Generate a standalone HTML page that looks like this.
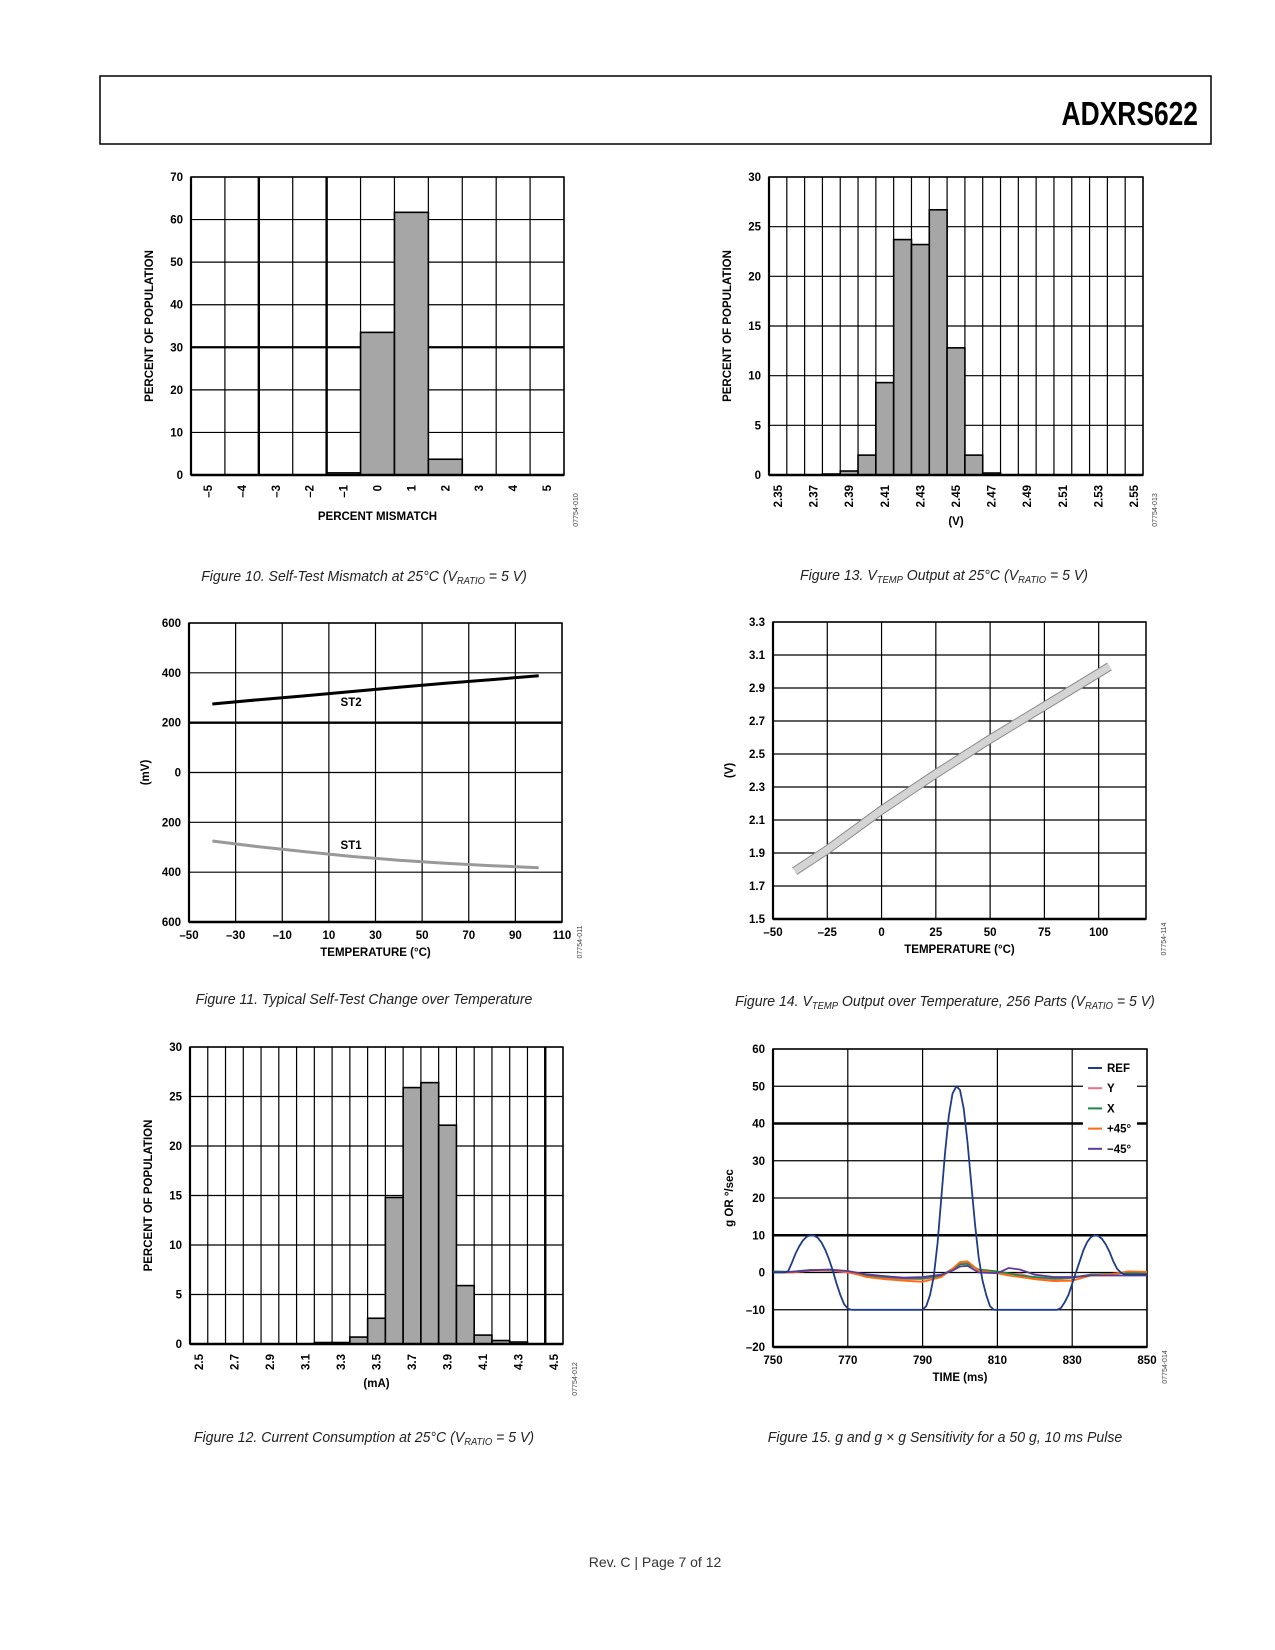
<!DOCTYPE html>
<html><head><meta charset="utf-8"><style>
html,body{margin:0;padding:0;background:#fff;}
svg{display:block;font-family:"Liberation Sans",Arial,sans-serif;}
.lab{font-size:11.5px;font-weight:bold;fill:#000;}
.cap{font-family:"Liberation Sans Narrow","Liberation Sans",sans-serif;font-style:italic;font-size:15px;fill:#222;}
.code{font-size:7px;fill:#444;}
</style></head><body>
<svg id="page" width="1275" height="1650" viewBox="0 0 1275 1650">
<rect x="100" y="76" width="1111" height="68" fill="none" stroke="#000" stroke-width="1.5"/>
<text x="0" y="0" text-anchor="end" font-size="33" font-weight="bold" transform="translate(1198,125) scale(0.8,1)">ADXRS622</text>
<text x="655" y="1567" text-anchor="middle" font-size="14" fill="#333">Rev. C | Page 7 of 12</text>
<g transform="translate(364,581) scale(0.94,1)"><text class="cap" x="0" y="0" text-anchor="middle">Figure 10. Self-Test Mismatch at 25°C (V<tspan font-size="10" dy="3">RATIO</tspan><tspan dy="-3"> = 5 V)</tspan></text></g>
<g transform="translate(944,580) scale(0.94,1)"><text class="cap" x="0" y="0" text-anchor="middle">Figure 13. V<tspan font-size="10" dy="3">TEMP</tspan><tspan dy="-3"> Output at 25°C (V</tspan><tspan font-size="10" dy="3">RATIO</tspan><tspan dy="-3"> = 5 V)</tspan></text></g>
<g transform="translate(364,1004) scale(0.94,1)"><text class="cap" x="0" y="0" text-anchor="middle">Figure 11. Typical Self-Test Change over Temperature</text></g>
<g transform="translate(945,1006) scale(0.94,1)"><text class="cap" x="0" y="0" text-anchor="middle">Figure 14. V<tspan font-size="10" dy="3">TEMP</tspan><tspan dy="-3"> Output over Temperature, 256 Parts (V</tspan><tspan font-size="10" dy="3">RATIO</tspan><tspan dy="-3"> = 5 V)</tspan></text></g>
<g transform="translate(364,1442) scale(0.94,1)"><text class="cap" x="0" y="0" text-anchor="middle">Figure 12. Current Consumption at 25°C (V<tspan font-size="10" dy="3">RATIO</tspan><tspan dy="-3"> = 5 V)</tspan></text></g>
<g transform="translate(945,1442) scale(0.94,1)"><text class="cap" x="0" y="0" text-anchor="middle">Figure 15. g and g × g Sensitivity for a 50 g, 10 ms Pulse</text></g>
<g id="g10"></g>
<g id="g13"></g>
<g id="g11"></g>
<g id="g14"></g>
<g id="g12"></g>
<g id="g15"></g>
</svg>
<script>
// Figure 10 data
var f10Cats=[-5,-4,-3,-2,-1,0,1,2,3,4,5];
var f10Vals=[0,0,0,0,0.5,33.5,61.7,3.7,0,0,0];
var f10Ticks=[0,10,20,30,40,50,60,70];
// Figure 13 data
var f13Cats=[2.35,2.36,2.37,2.38,2.39,2.40,2.41,2.42,2.43,2.44,2.45,2.46,2.47,2.48,2.49,2.50,2.51,2.52,2.53,2.54,2.55];
var f13Vals=[0,0,0,0.1,0.4,2,9.3,23.7,23.2,26.7,12.8,2,0.2,0,0,0,0,0,0,0,0];
var f13Ticks=[0,5,10,15,20,25,30];
// Figure 12 data
var f12Cats=[2.5,2.6,2.7,2.8,2.9,3.0,3.1,3.2,3.3,3.4,3.5,3.6,3.7,3.8,3.9,4.0,4.1,4.2,4.3,4.4,4.5];
var f12Vals=[0,0,0,0,0,0,0,0.15,0.15,0.7,2.6,14.8,25.9,26.4,22.1,5.9,0.9,0.35,0.2,0,0];
var f12Ticks=[0,5,10,15,20,25,30];
// Figure 11 data
var f11Temps=[-40,-20,0,20,40,60,80,100];
var f11ST2=[275,292,308,325,342,358,373,388];
var f11ST1=[-275,-298,-318,-337,-352,-364,-374,-382];
var f11YTicks=[-600,-400,-200,0,200,400,600];
var f11XTicks=[-50,-30,-10,10,30,50,70,90,110];
// Figure 14 data
var f14Temps=[-40,-25,0,25,50,75,105];
var f14Volts=[1.79,1.92,2.16,2.38,2.59,2.79,3.03];
var f14YTicks=[1.5,1.7,1.9,2.1,2.3,2.5,2.7,2.9,3.1,3.3];
var f14XTicks=[-50,-25,0,25,50,75,100];
// Figure 15 data
var f15RefT=[750,753,754,755,756,757,758,759,760,761,762,763,764,765,766,767,768,769,770,771,790,791,792,793,794,795,796,797,798,799,800,801,802,803,804,805,806,807,808,809,826,827,828,829,830,831,832,833,834,835,836,837,838,839,840,841,842,843,844,850];
var f15RefV=[0,0,0.3,2.5,5,7,8.6,9.6,10,9.9,9.3,8,6,3.5,0.5,-3,-6,-8.5,-9.7,-10,-10,-9,-6,-1,8,20,32,42,48,50,49,44,35,24,13,4,-2,-6,-9,-10,-10,-9.5,-8,-6,-3,0,3,6,8.2,9.5,10,9.8,9,7.5,5.5,3,1,0,-0.5,-0.5];
var f15T=[750,755,760,765,770,775,780,785,790,795,798,800,802,805,810,813,816,820,825,830,835,840,845,850];
var f15Y=[0,0,0.5,0.5,0,-1,-1.5,-1.8,-1.8,-1,1,2.6,2.8,0.5,0,-0.5,-0.3,-1.5,-2,-1.5,-0.5,-0.5,0,0];
var f15X=[0.3,0.2,0.7,0.6,0.3,-0.7,-1.2,-1.5,-1.6,-0.8,1,2.2,2.3,0.8,0.3,-0.2,-0.8,-1.2,-1.6,-1.4,-0.6,-0.4,0,0];
var f15P45=[0,0,0.5,0.7,0.2,-1.2,-1.8,-2.2,-2.5,-1.2,1,2.8,3,0.5,-0.2,-0.8,-1.2,-1.8,-2.3,-2.2,-0.8,-0.5,0.3,0.2];
var f15M45=[0.1,0.2,0.6,0.8,0.4,-0.5,-1,-1.4,-1.2,-0.6,0.5,1.6,1.8,0,-0.2,1.2,0.8,-0.6,-1.2,-1.2,-0.8,-0.8,-0.8,-0.8];
var f15YTicks=[-20,-10,0,10,20,30,40,50,60];
var f15XTicks=[750,770,790,810,830,850];
var f15Legend=["REF","Y","X","+45°","−45°"];

var NS="http://www.w3.org/2000/svg";
function mk(parent,tag,attrs){var e=document.createElementNS(NS,tag);for(var k in attrs)e.setAttribute(k,attrs[k]);parent.appendChild(e);return e;}
function fmt(v){return (v<0?"\u2013":"")+Math.abs(v);}
function lin(d0,d1,r0,r1){return function(v){return r0+(v-d0)/(d1-d0)*(r1-r0);};}

function histogram(gid,L,R,T,B,cats,vals,ticks,thickY,thickX,labelEvery,decimals,xTitle,yTitle,code,titleY){
  var g=document.getElementById(gid);
  var ymax=ticks[ticks.length-1];
  var y=lin(0,ymax,B,T);
  var n=cats.length,w=(R-L)/n;
  var i,e;
  for(i=0;i<ticks.length;i++){
    var yy=y(ticks[i]);
    e=mk(g,'line',{x1:L,x2:R,y1:yy,y2:yy,stroke:'#000','stroke-width':ticks[i]===thickY?2.2:1.2});
    
    
    e=mk(g,'text',{x:L-8,y:yy+4,'text-anchor':'end','class':'lab'});e.textContent=ticks[i];
    
    
  }
  for(i=0;i<=n;i++){
    var xx=L+i*w;
    e=mk(g,'line',{x1:xx,x2:xx,y1:T,y2:B,stroke:'#000','stroke-width':thickX.indexOf(i)>=0?2.4:1.2});
    
    
  }
  for(i=0;i<n;i++){
    if(vals[i]>0){
      e=mk(g,'rect',{x:L+i*w,y:y(vals[i]),width:w,height:B-y(vals[i]),fill:'#a6a6a6',stroke:'#000','stroke-width':1.6});
      
      
    }
    if(i%labelEvery===0){
      var cx=L+(i+0.5)*w;
      e=mk(g,'text',{x:0,y:0,'text-anchor':'end','class':'lab',transform:'translate('+(cx+4)+','+(B+10)+') rotate(-90)'});
      e.textContent=decimals?cats[i].toFixed(decimals):fmt(cats[i]);
      
      
    }
  }
  mk(g,'rect',{x:L,y:T,width:R-L,height:B-T,fill:'none',stroke:'#000','stroke-width':1.5});
  mk(g,'line',{x1:L,x2:L,y1:T,y2:B,stroke:'#000','stroke-width':2.2});
  mk(g,'line',{x1:L,x2:R,y1:B,y2:B,stroke:'#000','stroke-width':2.5});
  e=mk(g,'text',{x:(L+R)/2,y:titleY,'text-anchor':'middle','class':'lab'});e.textContent=xTitle;
  
  
  e=mk(g,'text',{x:0,y:0,'text-anchor':'middle','class':'lab',transform:'translate('+(L-38)+','+((T+B)/2)+') rotate(-90)'});e.textContent=yTitle;
  
  
  e=mk(g,'text',{x:0,y:0,'text-anchor':'middle','class':'code',transform:'translate('+(R+14)+','+(B+35)+') rotate(-90)'});e.textContent=code;
  
  
}
histogram('g10',191,564,177,475,f10Cats,f10Vals,f10Ticks,30,[2,4],1,0,'PERCENT MISMATCH','PERCENT OF POPULATION','07754-010',520);
histogram('g13',769,1143,177,475,f13Cats,f13Vals,f13Ticks,-1,[],2,2,'(V)','PERCENT OF POPULATION','07754-013',525);
histogram('g12',190,563,1047,1344,f12Cats,f12Vals,f12Ticks,-1,[20],2,1,'(mA)','PERCENT OF POPULATION','07754-012',1387);

function lineFrame(g,L,R,T,B,x,y,xt,yt,thickYs,xTitle,yTitle,code,ylabFmt,xStep){
  var e,i;
  for(i=0;i<yt.length;i++){
    var yy=y(yt[i]);
    e=mk(g,'line',{x1:L,x2:R,y1:yy,y2:yy,stroke:'#000','stroke-width':thickYs.indexOf(yt[i])>=0?2.4:1.2});
    
    
    e=mk(g,'text',{x:L-8,y:yy+4,'text-anchor':'end','class':'lab'});e.textContent=ylabFmt(yt[i]);
    
    
  }
  for(var v=xt[0];x(v)<=R+0.5;v+=xStep){
    e=mk(g,'line',{x1:x(v),x2:x(v),y1:T,y2:B,stroke:'#000','stroke-width':1.2});
    
    
  }
  for(i=0;i<xt.length;i++){
    e=mk(g,'text',{x:x(xt[i]),y:B+17,'text-anchor':'middle','class':'lab'});e.textContent=fmt(xt[i]);
    
    
  }
  mk(g,'rect',{x:L,y:T,width:R-L,height:B-T,fill:'none',stroke:'#000','stroke-width':1.5});
  mk(g,'line',{x1:L,x2:L,y1:T,y2:B,stroke:'#000','stroke-width':2.2});
  mk(g,'line',{x1:L,x2:R,y1:B,y2:B,stroke:'#000','stroke-width':2.5});
  e=mk(g,'text',{x:(L+R)/2,y:B+34,'text-anchor':'middle','class':'lab'});e.textContent=xTitle;
  
  
  e=mk(g,'text',{x:0,y:0,'text-anchor':'middle','class':'lab',transform:'translate('+(L-40)+','+((T+B)/2)+') rotate(-90)'});e.textContent=yTitle;
  
  
  e=mk(g,'text',{x:0,y:0,'text-anchor':'middle','class':'code',transform:'translate('+(R+20)+','+(B+20)+') rotate(-90)'});e.textContent=code;
  
  
}
function path(xs,ys,x,y){var d='';for(var i=0;i<xs.length;i++)d+=(i?'L':'M')+x(xs[i]).toFixed(1)+','+y(ys[i]).toFixed(1);return d;}

// Figure 11
(function(){
  var g=document.getElementById('g11'),L=189,R=562,T=623,B=922;
  var x=lin(-50,110,L,R),y=lin(-600,600,B,T);
  lineFrame(g,L,R,T,B,x,y,f11XTicks,f11YTicks,[200],'TEMPERATURE (°C)','(mV)','07754-011',function(v){return Math.abs(v);},20);
  var e=mk(g,'path',{d:path(f11Temps,f11ST2,x,y),fill:'none',stroke:'#000','stroke-width':3});
  
  
  e=mk(g,'path',{d:path(f11Temps,f11ST1,x,y),fill:'none',stroke:'#999','stroke-width':3});
  
  
  e=mk(g,'text',{x:x(15),y:706,'class':'lab'});e.textContent='ST2';
  
  
  e=mk(g,'text',{x:x(15),y:849,'class':'lab'});e.textContent='ST1';
  
  
})();
// Figure 14
(function(){
  var g=document.getElementById('g14'),L=773,R=1146,T=622,B=919;
  var x=lin(-50,121.8,L,R),y=lin(1.5,3.3,B,T);
  lineFrame(g,L,R,T,B,x,y,f14XTicks,f14YTicks,[],'TEMPERATURE (°C)','(V)','07754-114',function(v){return v.toFixed(1);},25);
  var e=mk(g,'path',{d:path(f14Temps,f14Volts,x,y),fill:'none',stroke:'#8a8a8a','stroke-width':9});
  
  
  e=mk(g,'path',{d:path(f14Temps,f14Volts,x,y),fill:'none',stroke:'#d4d4d4','stroke-width':7});
  
  
})();
// Figure 15
(function(){
  var g=document.getElementById('g15'),L=773,R=1147,T=1049,B=1347;
  var x=lin(750,850,L,R),y=lin(-20,60,B,T);
  lineFrame(g,L,R,T,B,x,y,f15XTicks,f15YTicks,[40,10],'TIME (ms)','g OR °/sec','07754-014',fmt,20);
  var series=[[f15Y,'#e8708a','y-series'],[f15X,'#1a8a45','x-series'],[f15P45,'#ff6a10','plus45-series'],[f15M45,'#5b3a9a','minus45-series']];
  var e;
  for(var s=0;s<series.length;s++){
    e=mk(g,'path',{d:path(f15T,series[s][0],x,y),fill:'none',stroke:series[s][1],'stroke-width':1.8});
    
    
  }
  e=mk(g,'path',{d:path(f15RefT,f15RefV,x,y),fill:'none',stroke:'#1f3c88','stroke-width':1.8,'stroke-linejoin':'round'});
  
  
  var lg=mk(g,'g',{});
  
  
  mk(lg,'rect',{x:1083,y:1058,width:54,height:97,fill:'#fff'});
  var cols=['#1f3c88','#e8708a','#1a8a45','#ff6a10','#5b3a9a'];
  for(var i=0;i<f15Legend.length;i++){
    var yy=1068+i*20.2;
    e=mk(lg,'line',{x1:1088,x2:1102,y1:yy,y2:yy,stroke:cols[i],'stroke-width':2});
    
    
    e=mk(lg,'text',{x:1107,y:yy+4,'class':'lab'});e.textContent=f15Legend[i];
    
    
  }
})();
</script>
</body></html>
